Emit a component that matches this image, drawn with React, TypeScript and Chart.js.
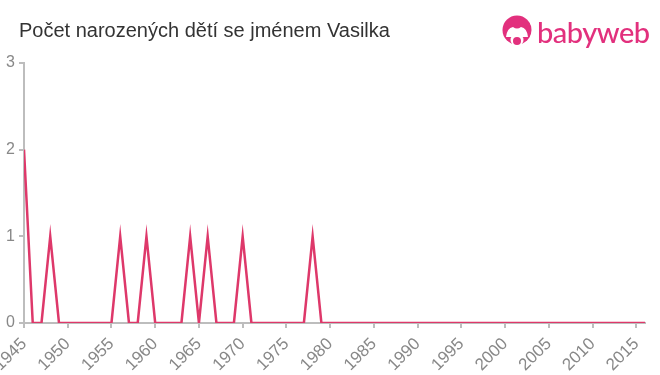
import React, { useEffect, useRef } from "react";
import { Chart, registerables } from "chart.js";

Chart.register(...registerables);

const title = "Počet narozených dětí se jménem Vasilka";

const years = [
  1945, 1946, 1947, 1948, 1949, 1950, 1951, 1952, 1953, 1954,
  1955, 1956, 1957, 1958, 1959, 1960, 1961, 1962, 1963, 1964,
  1965, 1966, 1967, 1968, 1969, 1970, 1971, 1972, 1973, 1974,
  1975, 1976, 1977, 1978, 1979, 1980, 1981, 1982, 1983, 1984,
  1985, 1986, 1987, 1988, 1989, 1990, 1991, 1992, 1993, 1994,
  1995, 1996, 1997, 1998, 1999, 2000, 2001, 2002, 2003, 2004,
  2005, 2006, 2007, 2008, 2009, 2010, 2011, 2012, 2013, 2014,
  2015, 2016,
];

const counts = [
  2, 0, 0, 1, 0, 0, 0, 0, 0, 0,
  0, 1, 0, 0, 1, 0, 0, 0, 0, 1,
  0, 1, 0, 0, 0, 1, 0, 0, 0, 0,
  0, 0, 0, 1, 0, 0, 0, 0, 0, 0,
  0, 0, 0, 0, 0, 0, 0, 0, 0, 0,
  0, 0, 0, 0, 0, 0, 0, 0, 0, 0,
  0, 0, 0, 0, 0, 0, 0, 0, 0, 0,
  0, 0,
];

const xTickLabels = [
  1945, 1950, 1955, 1960, 1965, 1970, 1975, 1980, 1985, 1990,
  1995, 2000, 2005, 2010, 2015,
];

const yTicks = [0, 1, 2, 3];

const LINE = "rgb(222, 56, 106)";
const AXIS = "#bdbdbd";
const TICK_TEXT = "#888888";
const PINK = "#e2307d";

export default function App() {
  const ref = useRef<HTMLCanvasElement | null>(null);

  useEffect(() => {
    if (!ref.current) return;
    const chart = new Chart(ref.current, {
      type: "line",
      data: {
        datasets: [
          {
            data: years.map((y, i) => ({ x: y, y: counts[i] })),
            borderColor: LINE,
            backgroundColor: LINE,
            borderWidth: 2.5,
            pointRadius: 0,
            tension: 0,
            fill: false,
          },
        ],
      },
      options: {
        animation: false,
        responsive: false,
        maintainAspectRatio: false,
        layout: { padding: { top: 63, right: 15, left: 0, bottom: 0 } },
        plugins: {
          legend: { display: false },
          tooltip: { enabled: false },
          title: { display: false },
        },
        scales: {
          x: {
            type: "linear",
            min: years[0],
            max: years[years.length - 1],
            afterBuildTicks: (scale: any) => {
              scale.ticks = xTickLabels.map((v) => ({ value: v }));
            },
            afterFit: (scale: any) => {
              scale.paddingLeft = 0;
              scale.paddingRight = 0;
              scale.height = 52;
            },
            ticks: {
              autoSkip: false,
              maxRotation: 45,
              minRotation: 45,
              color: TICK_TEXT,
              padding: 6,
              font: { family: "Liberation Sans, Arial, sans-serif", size: 17 },
              callback: (v: any) => String(v),
            },
            grid: {
              display: true,
              drawOnChartArea: false,
              drawTicks: true,
              tickLength: 5,
              color: AXIS,
              lineWidth: 2,
            },
            border: { display: true, color: AXIS, width: 2 },
          },
          y: {
            min: yTicks[0],
            max: yTicks[yTicks.length - 1],
            afterFit: (scale: any) => {
              scale.width = 24;
            },
            ticks: {
              stepSize: 1,
              color: TICK_TEXT,
              padding: 4,
              font: { family: "Liberation Sans, Arial, sans-serif", size: 16 },
            },
            grid: {
              display: true,
              drawOnChartArea: false,
              drawTicks: true,
              tickLength: 5,
              color: AXIS,
              lineWidth: 2,
            },
            border: { display: true, color: AXIS, width: 2 },
          },
        },
      },
    });
    return () => chart.destroy();
  }, []);

  return (
    <div
      style={{
        position: "fixed",
        left: 0,
        top: 0,
        width: 660,
        height: 375,
        background: "#fff",
        overflow: "hidden",
      }}
    >
      <canvas ref={ref} width={660} height={375} style={{ position: "absolute", left: 0, top: 0 }} />
      <div
        style={{
          position: "absolute",
          left: 19,
          top: 18,
          fontFamily: "Liberation Sans, Arial, sans-serif",
          fontSize: 20,
          lineHeight: "24px",
          color: "#333",
          whiteSpace: "nowrap",
        }}
      >
        {title}
      </div>
      <div style={{ position: "absolute", left: 501, top: 15, width: 32, height: 34 }}>
        <svg width="32" height="34" viewBox="0 0 32 34">
          <circle cx="16" cy="15" r="14.5" fill={PINK} />
          <path d="M5 22 Q6 13 12 12 Q16 15 20 12 Q26 13 27 22 Z" fill="#fff" />
          <circle cx="16" cy="25" r="6.5" fill="#fff" />
          <circle cx="16" cy="26" r="4" fill={PINK} />
        </svg>
      </div>
      <div
        style={{
          position: "absolute",
          left: 537,
          top: 14,
          fontFamily: "Lato, 'Open Sans', sans-serif",
          fontSize: 29,
          fontWeight: 500,
          color: PINK,
          letterSpacing: -0.5,
          whiteSpace: "nowrap",
        }}
      >
        babyweb
      </div>
    </div>
  );
}
